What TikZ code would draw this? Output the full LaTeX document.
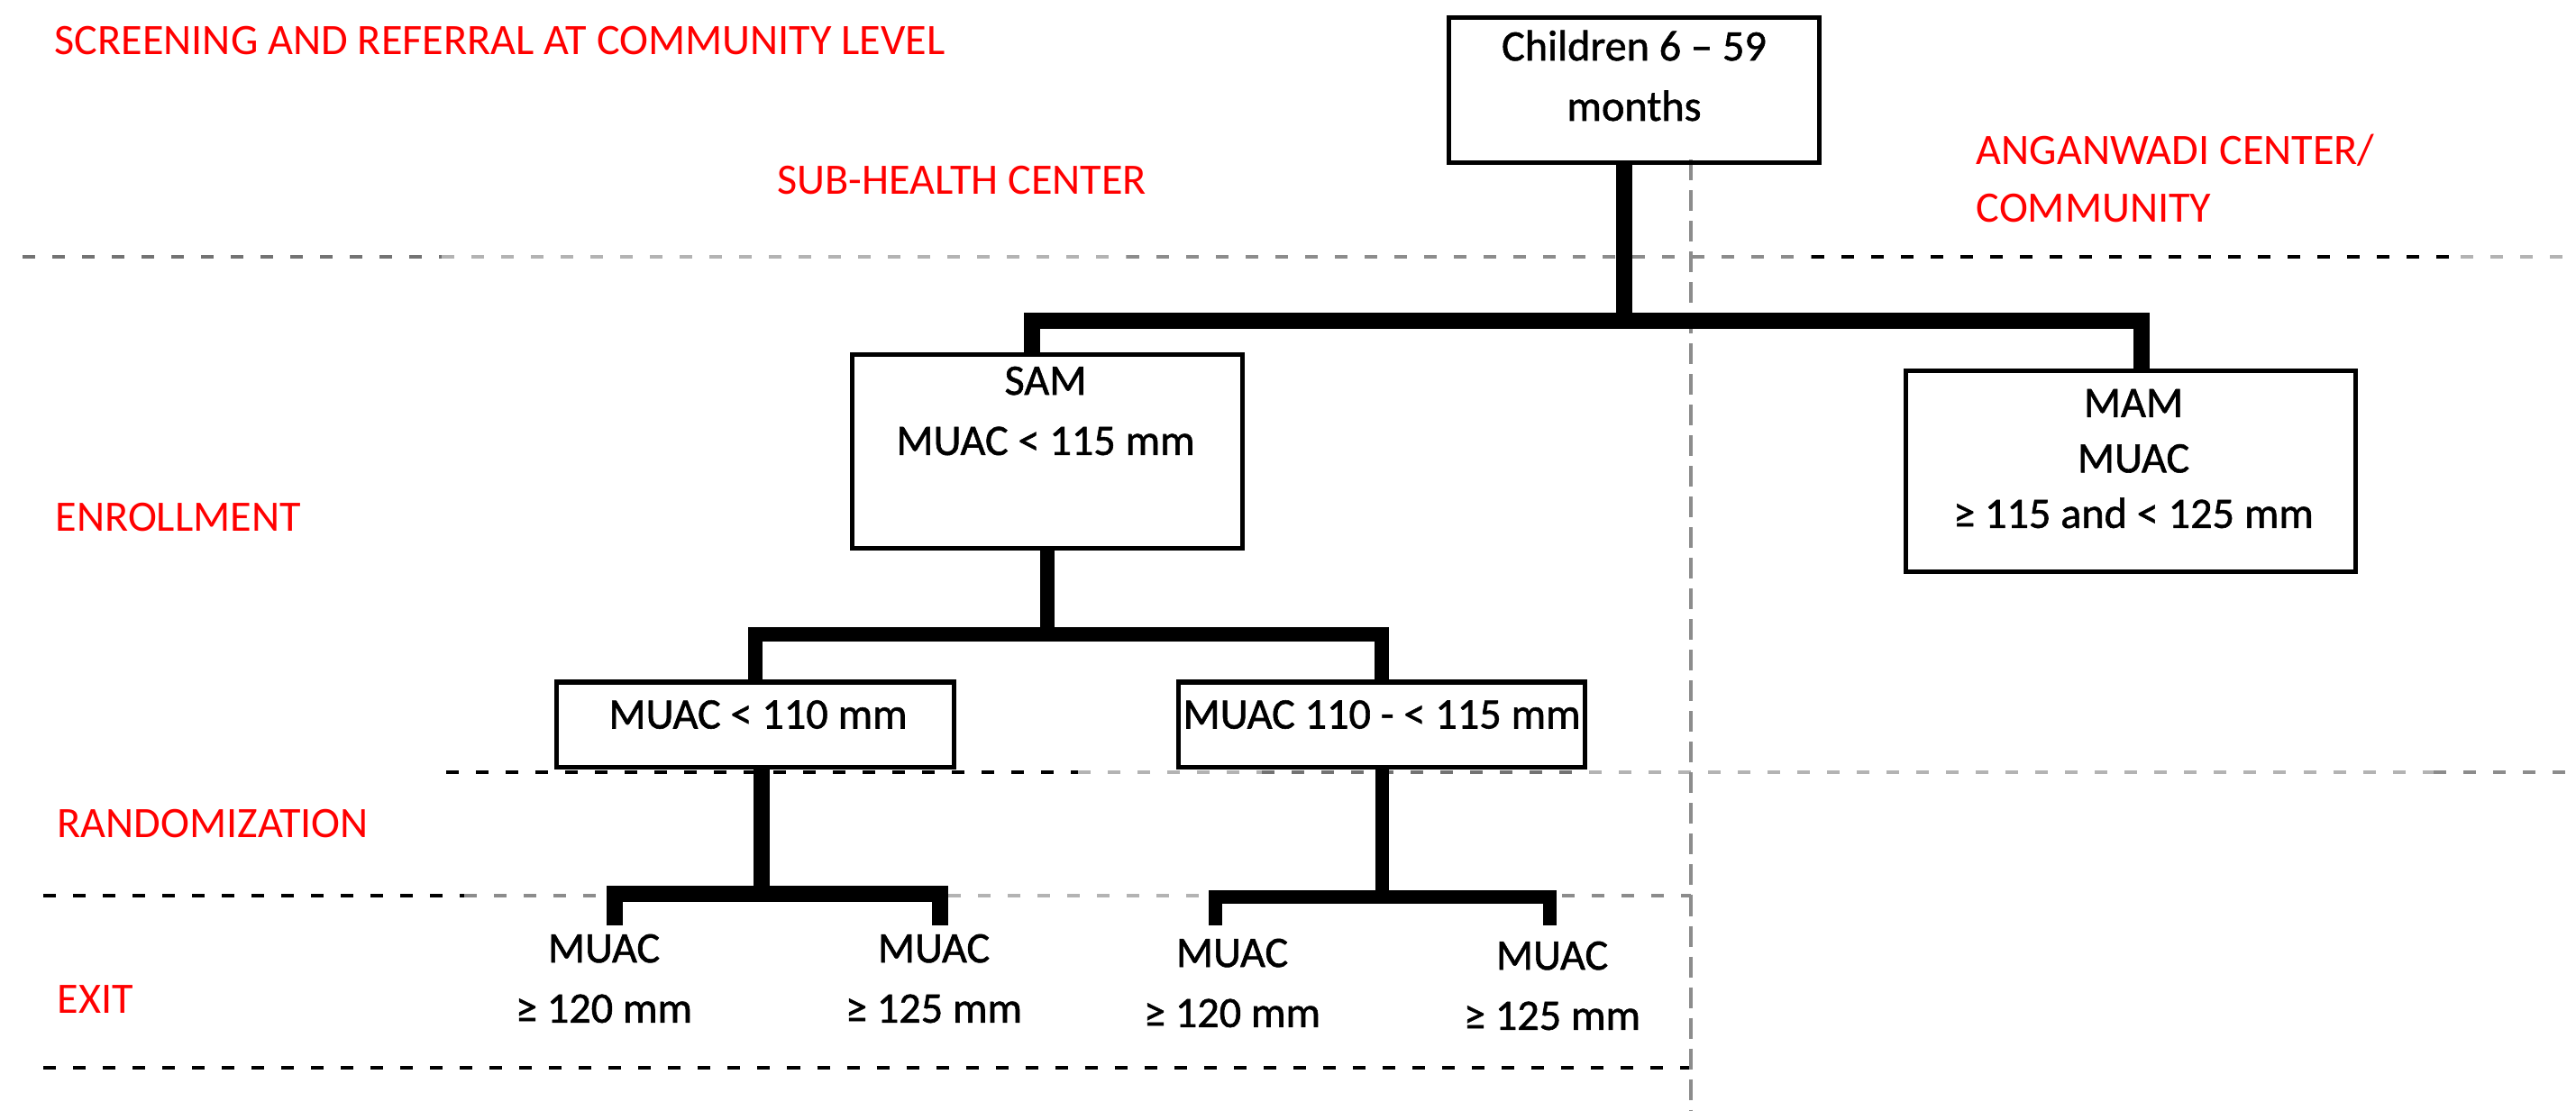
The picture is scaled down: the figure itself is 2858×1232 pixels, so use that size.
\documentclass[tikz,border=0pt]{standalone}
\usepackage{fontspec}
\setmainfont{Carlito}
\newfontfamily\boxfont[FakeBold=1.2]{Carlito}
\definecolor{zoneA}{HTML}{737373}
\definecolor{zoneB}{HTML}{B3B3B3}
\definecolor{zoneC}{HTML}{8C8C8C}
\begin{document}
\begin{tikzpicture}[x=0.01cm, y=-0.01cm, line join=miter,
  box/.style={draw, line width=0.05cm, inner sep=0pt},
  lbl/.style={font=\boxfont\fontsize{13.7}{19}\selectfont, align=center, inner sep=0pt},
  head/.style={font=\fontsize{13.7}{18}\selectfont, text=red, anchor=base west, inner sep=0pt},
  conn/.style={line width=0.18cm},
  zoneline/.style={line width=0.04cm, dash pattern=on 0.14cm off 0.19cm}]
\useasboundingbox (0,0) rectangle (2858,1232);
% level separators
\draw[zoneline, zoneA] (25,285) -- (490,285);
\draw[zoneline, zoneB] (490,285) -- (1250,285);
\draw[zoneline, zoneC] (1250,285) -- (2010,285);
\draw[zoneline, black] (2010,285) -- (2730,285);
\draw[zoneline, zoneB] (2730,285) -- (2858,285);
\draw[zoneline, black] (495,857) -- (1196,857);
\draw[zoneline, zoneB] (1196,857) -- (1400,857);
\draw[zoneline, zoneA] (1400,857) -- (1763,857);
\draw[zoneline, zoneB] (1763,857) -- (2700,857);
\draw[zoneline, zoneC] (2700,857) -- (2858,857);
\draw[zoneline, black] (48,994) -- (515,994);
\draw[zoneline, zoneC] (515,994) -- (1052,994);
\draw[zoneline, zoneB] (1052,994) -- (1733,994);
\draw[zoneline, zoneC] (1733,994) -- (1876,994);
\draw[zoneline, black] (48,1185) -- (1876,1185);
\draw[zoneC, line width=0.035cm, dash pattern=on 0.23cm off 0.11cm] (1876,177) -- (1876,1232);

% headings
\node[head] (screening) at (60,60) {SCREENING AND REFERRAL AT COMMUNITY LEVEL};
\node[head] (subhealth) at (862,215) {SUB-HEALTH CENTER};
\node[head, align=left, anchor=west] (anganwadi) at (2192,198) {ANGANWADI CENTER/\\COMMUNITY};
\node[head] (enrol) at (61,589) {ENROLLMENT};
\node[head] (random) at (63,929) {RANDOMIZATION};
\node[head] (exitlbl) at (63,1124) {EXIT};

% boxes
\node[box, minimum width=4.11cm, minimum height=1.61cm] (kids) at (1813,100) {};
\node[lbl] (kidstxt) at (1813,84) {Children 6 – 59\\months};
\node[box, minimum width=4.32cm, minimum height=2.15cm] (sam) at (1162,501) {};
\node[lbl] (samtxt) at (1160,456) {SAM\\MUAC < 115 mm};
\node[box, minimum width=4.98cm, minimum height=2.23cm] (mam) at (2364,523) {};
\node[lbl, font=\boxfont\fontsize{13.7}{17.5}\selectfont] (mamtxt) at (2367,509) {MAM\\MUAC\\≥ 115 and < 125 mm};
\node[box, minimum width=4.40cm, minimum height=0.94cm] (muacA) at (838,804) {};
\node[lbl] (muacAtxt) at (841,793) {MUAC < 110 mm};
\node[box, minimum width=4.51cm, minimum height=0.94cm] (muacB) at (1533,804) {};
\node[lbl] (muacBtxt) at (1533,793) {MUAC 110 - < 115 mm};

% exit criteria
\coordinate (e1) at (682,1027);
\coordinate (e2) at (1043,1027);
\coordinate (e3) at (1348,1027);
\coordinate (e4) at (1719,1027);
\node[lbl] (exit1) at (670,1086) {MUAC\\≥ 120 mm};
\node[lbl] (exit2) at (1036,1086) {MUAC\\≥ 125 mm};
\node[lbl] (exit3) at (1367,1091) {MUAC\\≥ 120 mm};
\node[lbl] (exit4) at (1722,1094) {MUAC\\≥ 125 mm};

% connectors
\coordinate (j1) at (1802,356);
\draw[conn] (kids.south -| j1) -- (j1);
\draw[conn] ([xshift=-0.17cm]sam.north) |- (j1) -| ([xshift=0.12cm]mam.north);
\coordinate (j2) at (1160,704);
\draw[conn, line width=0.155cm] (sam.south) -- (sam.south |- j2);
\draw[conn, line width=0.155cm] (muacA.north) |- (j2) -| (muacB.north);
\coordinate (j3) at (845,992);
\draw[conn] (muacA.south -| j3) -- (j3);
\draw[conn] (e1) |- (j3) -| (e2);
\coordinate (j4) at (1533,995);
\draw[conn, line width=0.15cm] (muacB.south) -- (j4);
\draw[conn, line width=0.15cm] (e3) |- (j4) -| (e4);
\end{tikzpicture}
\end{document}
